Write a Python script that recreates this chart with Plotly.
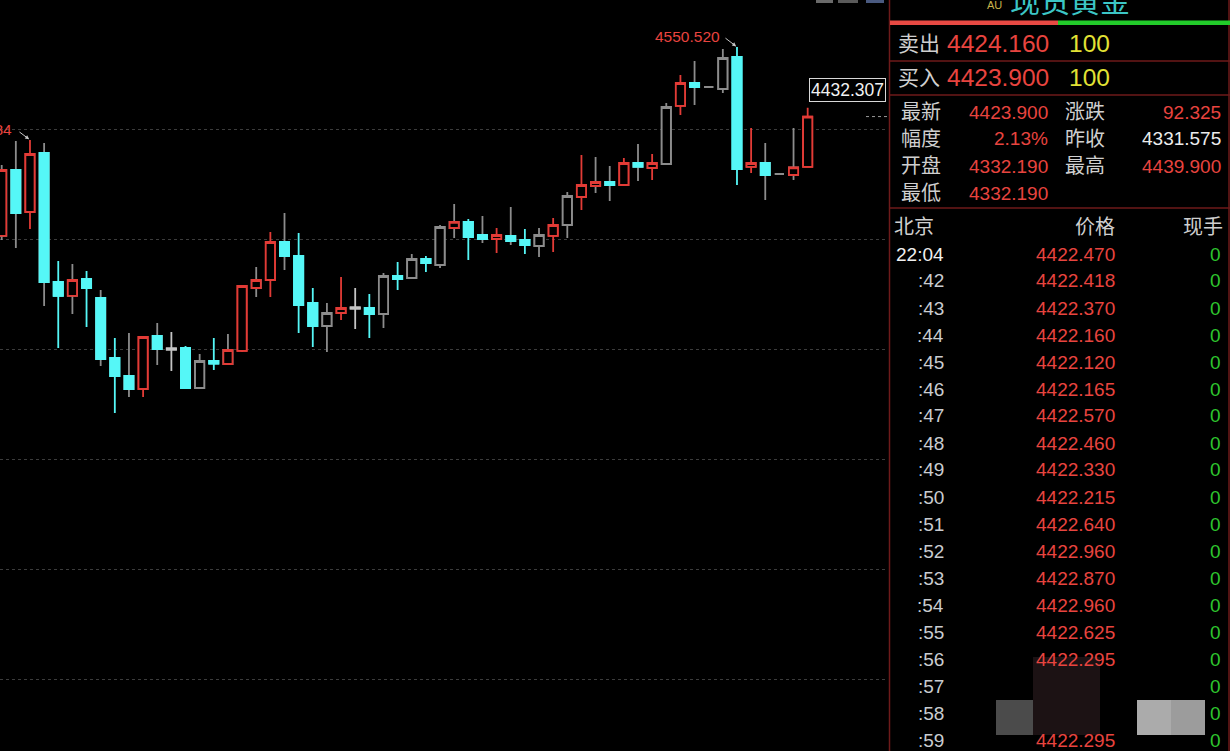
import plotly.graph_objects as go

W, H = 1230, 751
CHART_W = 888

# ---------------- data: daily candles (spot gold) ----------------
idx = list(range(58))
opens = [4206.6, 4326.7, 4250.2, 4357.6, 4122.8, 4097.4, 4128.3, 4093.7, 3984.5, 3951.7,
         3928.1, 4024.5, 4000.0, 4002.7, 3929.9, 3979.0, 3973.6, 3997.3, 4111.9, 4126.5,
         4195.6, 4170.1, 4084.6, 4042.7, 4066.4, 4074.6, 4075.5, 4064.6, 4133.7, 4130.1,
         4164.7, 4153.8, 4221.1, 4232.1, 4208.4, 4201.1, 4206.6, 4199.3, 4188.3, 4206.6,
         4226.6, 4277.5, 4297.5, 4304.8, 4299.4, 4339.4, 4330.3, 4337.6, 4443.2, 4485.0,
         4477.7, 4474.1, 4532.3, 4332.2, 4339.4, 4319.4, 4317.6, 4332.19]
highs = [4335.8, 4379.4, 4381.484, 4375.8, 4161.0, 4155.6, 4142.8, 4108.3, 4020.9, 4030.0,
         4024.5, 4048.2, 4031.8, 4006.3, 3991.8, 4020.9, 4028.2, 4117.3, 4150.1, 4213.8,
         4248.4, 4212.0, 4111.9, 4084.6, 4131.9, 4111.9, 4101.0, 4139.2, 4159.2, 4173.8,
         4170.1, 4226.6, 4264.8, 4237.5, 4243.0, 4221.1, 4259.3, 4219.3, 4221.1, 4239.3,
         4286.6, 4354.0, 4350.3, 4333.9, 4348.5, 4374.0, 4355.8, 4448.6, 4499.6, 4525.0,
         4477.7, 4546.9, 4550.52, 4403.1, 4375.8, 4319.4, 4403.1, 4439.9]
lows = [4199.3, 4184.7, 4219.3, 4079.1, 4002.7, 4064.6, 4040.9, 3969.9, 3884.4, 3913.5,
        3913.5, 3971.8, 3960.8, 3928.1, 3928.1, 3962.7, 3971.8, 3995.4, 4095.5, 4095.5,
        4144.7, 4030.0, 4004.5, 3995.4, 4053.7, 4037.3, 4020.9, 4039.1, 4108.3, 4128.3,
        4141.0, 4148.3, 4202.9, 4162.9, 4193.8, 4175.6, 4190.2, 4173.8, 4168.3, 4177.4,
        4202.9, 4253.9, 4284.8, 4270.2, 4297.5, 4306.6, 4308.5, 4335.8, 4426.8, 4445.0,
        4477.7, 4466.8, 4299.4, 4321.2, 4272.1, 4319.4, 4308.5, 4332.19]
closes = [4326.7, 4248.4, 4355.8, 4122.8, 4097.4, 4126.5, 4111.9, 3982.7, 3951.7, 3928.1,
          4022.7, 4000.9, 4001.8, 3929.9, 3979.0, 3974.5, 3999.1, 4115.5, 4126.5, 4195.6,
          4170.1, 4081.0, 4042.7, 4066.4, 4075.5, 4076.4, 4064.6, 4133.7, 4128.3, 4164.7,
          4157.4, 4222.9, 4232.1, 4204.7, 4201.1, 4208.4, 4197.4, 4190.2, 4208.4, 4226.6,
          4279.3, 4299.4, 4304.8, 4299.4, 4339.4, 4332.2, 4339.4, 4441.3, 4485.0, 4477.7,
          4477.7, 4530.5, 4328.5, 4339.4, 4317.6, 4319.4, 4331.575, 4423.9]
# colour class used by the terminal for body / wick of each candle
body_kind = list("rcrccrcccc" "rcwcgcrrrr" "cccgrwcgcg" "cgrccrccgr" "grrcrcrgrc" "ggcrcgrr")
wick_kind = list("ggrgcgcgcg" "rgwcgcgrgr" "gccgrwcgcg" "cggcgrgcgr" "grggrgrgrg" "ggcrgggr")

grid_vals = [3400, 3600, 3800, 4000, 4200, 4400]
y_range = [3269.24, 4636.06]
x_range = [-0.12, 62.68]

peak_label = "4550.520"
left_peak_label = "4381.484"
price_box = 4432.307
last_price = 4423.9

# ---------------- quote panel data ----------------
title = "现货黄金"
ask_label, ask_price, ask_vol = "卖出", "4424.160", "100"
bid_label, bid_price, bid_vol = "买入", "4423.900", "100"
stats_left = [("最新", "4423.900"), ("幅度", "2.13%"), ("开盘", "4332.190"), ("最低", "4332.190")]
stats_right = [("涨跌", "92.325"), ("昨收", "4331.575"), ("最高", "4439.900")]
stats_right_colors = ["red", "white", "red"]
tick_times = ["22:04", ":42", ":43", ":44", ":45", ":46", ":47", ":48", ":49", ":50",
              ":51", ":52", ":53", ":54", ":55", ":56", ":57", ":58", ":59"]
tick_prices = ["4422.470", "4422.418", "4422.370", "4422.160", "4422.120", "4422.165",
               "4422.570", "4422.460", "4422.330", "4422.215", "4422.640", "4422.960",
               "4422.870", "4422.960", "4422.625", "4422.295", "", "", "4422.295"]
tick_vols = ["0"] * 19

# ---------------- styling ----------------
RED = "#e23b36"
CYAN = "#55f7f7"
GRAY = "#8c8c8c"
WHITE_C = "#c4c4c4"
COL = {"r": RED, "c": CYAN, "g": GRAY, "w": WHITE_C}
TXT_RED = "#e8443f"
FONT = "Liberation Sans, Noto Sans CJK SC, sans-serif"
LW = 1.8

fig = go.Figure()

# wick layer
for k in ["g", "w", "c", "r"]:
    sel = [i for i in idx if wick_kind[i] == k]
    if not sel:
        continue
    c = COL[k]
    fig.add_trace(go.Candlestick(
        x=[idx[i] for i in sel], open=[opens[i] for i in sel], high=[highs[i] for i in sel],
        low=[lows[i] for i in sel], close=[closes[i] for i in sel],
        increasing=dict(line=dict(color=c, width=LW), fillcolor=c),
        decreasing=dict(line=dict(color=c, width=LW), fillcolor=c),
        hoverinfo="none", showlegend=False))

# body layer
for k in ["g", "w", "c", "r"]:
    sel = [i for i in idx if body_kind[i] == k]
    if not sel:
        continue
    c = COL[k]
    fill = c if k == "c" else "#000000"
    fig.add_trace(go.Candlestick(
        x=[idx[i] for i in sel], open=[opens[i] for i in sel],
        high=[max(opens[i], closes[i]) for i in sel],
        low=[min(opens[i], closes[i]) for i in sel], close=[closes[i] for i in sel],
        increasing=dict(line=dict(color=c, width=LW), fillcolor=fill),
        decreasing=dict(line=dict(color=c, width=LW), fillcolor=fill),
        hoverinfo="none", showlegend=False))


def px(x):
    return x / W


def py(y):
    return 1 - y / H


ann = []
shapes = []

# chart annotations
ann.append(dict(x=52, y=highs[52], xref="x", yref="y", text=peak_label, showarrow=False,
                xanchor="right", yanchor="middle", xshift=-15, yshift=11,
                font=dict(family=FONT, size=15.5, color=TXT_RED)))
ann.append(dict(x=52, y=highs[52], xref="x", yref="y", text="", showarrow=True,
                ax=-13, ay=-10, arrowhead=2, arrowsize=0.8, arrowwidth=1, arrowcolor="#c8c8c8",
                standoff=1))
ann.append(dict(x=2, y=highs[2], xref="x", yref="y", text=left_peak_label, showarrow=False,
                xanchor="right", yanchor="middle", xshift=-16, yshift=10,
                font=dict(family=FONT, size=15.5, color=TXT_RED)))
ann.append(dict(x=2, y=highs[2], xref="x", yref="y", text="", showarrow=True,
                ax=-12, ay=-9, arrowhead=2, arrowsize=0.8, arrowwidth=1, arrowcolor="#c8c8c8",
                standoff=1))
ann.append(dict(x=px(886), y=price_box, xref="paper", yref="y", text=f"{price_box:.3f}",
                showarrow=False, xanchor="right", yanchor="bottom", yshift=10,
                font=dict(family=FONT, size=17.5, color="#f2f2f2"),
                bordercolor="#d8d8d8", borderwidth=1, borderpad=1, bgcolor="#000000"))
shapes.append(dict(type="line", xref="paper", yref="y", x0=px(866), x1=px(887),
                   y0=last_price, y1=last_price, line=dict(color="#9a9a9a", width=1, dash="dot")))

# top tab fragments
for x0, x1, c in [(816, 833, "#6a6a6a"), (838, 858, "#5a5a5a"), (866, 884, "#4a5a80")]:
    shapes.append(dict(type="rect", xref="paper", yref="paper", x0=px(x0), x1=px(x1),
                       y0=py(3), y1=py(0), fillcolor=c, line=dict(width=0)))

# ---------------- right panel ----------------
BORDER = "#6e1a1a"
shapes.append(dict(type="line", xref="paper", yref="paper", x0=px(889.5), x1=px(889.5),
                   y0=0, y1=1, line=dict(color=BORDER, width=1.5)))
shapes.append(dict(type="line", xref="paper", yref="paper", x0=px(1229), x1=px(1229),
                   y0=0, y1=1, line=dict(color=BORDER, width=1.5)))
for yy in [61, 95, 208]:
    shapes.append(dict(type="line", xref="paper", yref="paper", x0=px(890), x1=1,
                       y0=py(yy), y1=py(yy), line=dict(color=BORDER, width=1.5)))
shapes.append(dict(type="rect", xref="paper", yref="paper", x0=px(890), x1=px(1058),
                   y0=py(25), y1=py(20.5), fillcolor="#e84a44", line=dict(width=0)))
shapes.append(dict(type="rect", xref="paper", yref="paper", x0=px(1058), x1=1,
                   y0=py(25), y1=py(20.5), fillcolor="#22cc2a", line=dict(width=0)))


def txt(x, y, s, color, size, anchor="left"):
    ann.append(dict(x=px(x), y=py(y), xref="paper", yref="paper", text=s, showarrow=False,
                    xanchor=anchor, yanchor="middle",
                    font=dict(family=FONT, size=size, color=color)))


txt(1070, 2, title, "#3cc6c6", 30, "center")
txt(985, 5, "AU", "#c8b24a", 11)

LABEL = "#cfcfcf"
YEL = "#e2e234"
GRN = "#2ec52e"
txt(896, 44, ask_label, LABEL, 21)
txt(945, 44, ask_price, TXT_RED, 24.5)
txt(1067, 44, ask_vol, YEL, 24.5)
txt(896, 78, bid_label, LABEL, 21)
txt(945, 78, bid_price, TXT_RED, 24.5)
txt(1067, 78, bid_vol, YEL, 24.5)

for j, (lab, val) in enumerate(stats_left):
    yy = 112 + 27 * j
    txt(899, yy, lab, LABEL, 20)
    txt(1050, yy, val, TXT_RED, 19, "right")
for j, (lab, val) in enumerate(stats_right):
    yy = 112 + 27 * j
    txt(1063, yy, lab, LABEL, 20)
    txt(1223, yy, val, TXT_RED if stats_right_colors[j] == "red" else "#ececec", 19, "right")

txt(892, 227, "北京", LABEL, 20)
txt(1117, 227, "价格", LABEL, 20, "right")
txt(1225, 227, "现手", LABEL, 20, "right")

for j in range(len(tick_times)):
    yy = 254 + 27 * j
    txt(946, yy, tick_times[j], "#f0f0f0" if j == 0 else "#c9ccd0", 19, "right")
    if tick_prices[j]:
        txt(1117, yy, tick_prices[j], TXT_RED, 19, "right")
    txt(1223, yy, tick_vols[j], GRN, 19, "right")

# video-overlay blocks at bottom right
for x0, x1, y0, y1, c in [(1033, 1100, 657, 735, "#1c1214"), (996, 1033, 700, 735, "#4b4b4b"),
                          (1137, 1171, 700, 735, "#ababab"), (1171, 1205, 700, 735, "#9c9c9c")]:
    shapes.append(dict(type="rect", xref="paper", yref="paper", x0=px(x0), x1=px(x1),
                       y0=py(y1), y1=py(y0), fillcolor=c, line=dict(width=0)))

fig.update_layout(
    width=W, height=H,
    margin=dict(l=0, r=0, t=0, b=0),
    paper_bgcolor="#000000", plot_bgcolor="#000000",
    boxgap=0.35, boxgroupgap=0,
    showlegend=False,
    xaxis=dict(domain=[0, CHART_W / W], range=x_range, visible=False,
               rangeslider=dict(visible=False), fixedrange=True),
    yaxis=dict(domain=[0, 1], range=y_range, showticklabels=False, ticks="",
               tickvals=grid_vals, showgrid=True, gridcolor="#3c3c3c", griddash="dot",
               gridwidth=1, zeroline=False, showline=False, fixedrange=True),
    annotations=ann, shapes=shapes,
)

fig.write_html("out.html", config={"displayModeBar": False},
               post_script="document.body.style.margin='0';document.body.style.background='#000';"
                           "document.body.style.overflow='hidden';")
